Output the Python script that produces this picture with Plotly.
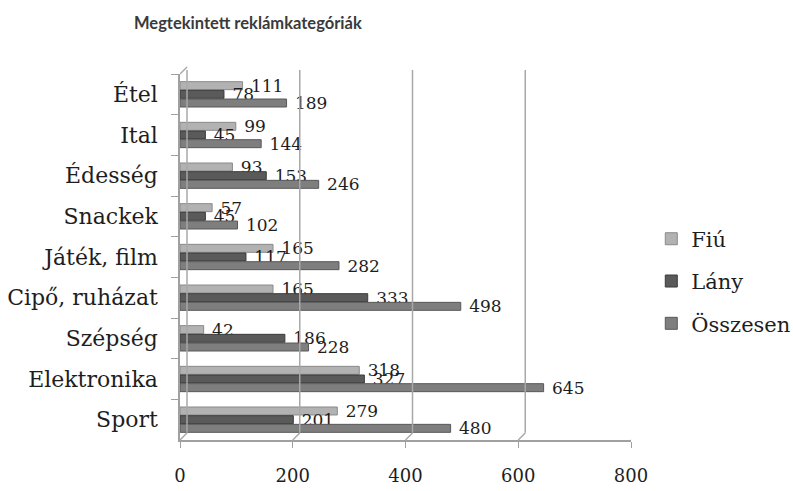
import plotly.graph_objects as go

# Viewed ad categories, counts by gender
categories = ["Étel", "Ital", "Édesség", "Snackek", "Játék, film",
              "Cipő, ruházat", "Szépség", "Elektronika", "Sport"]
fiu = [111, 99, 93, 57, 165, 165, 42, 318, 279]
lany = [78, 45, 153, 45, 117, 333, 186, 327, 201]
osszesen = [189, 144, 246, 102, 282, 498, 228, 645, 480]

series_names = ["Fiú", "Lány", "Összesen"]
series_values = [fiu, lany, osszesen]
series_colors = ["#b2b2b2", "#5a5a5a", "#7e7e7e"]
series_edges = ["#8a8a8a", "#3a3a3a", "#585858"]

x_ticks = [0, 200, 400, 600, 800]

serif = "DejaVu Serif"

fig = go.Figure()
for name, vals, col, edge in zip(series_names, series_values, series_colors, series_edges):
    fig.add_trace(go.Bar(
        y=categories, x=vals, name=name, orientation="h",
        legendgroup=name,
        marker=dict(color=col, line=dict(color=edge, width=1)),
        text=[" " + str(v) for v in vals], textposition="outside",
        constraintext="none",
        textfont=dict(family=serif, size=17, color="#1e1e1e"),
        cliponaxis=False,
    ))

# back wall grid lines, shifted for the 3D depth effect
shapes = []
depth = 7
wall = dict(color="#a8a8a8", width=1.5)
for v in x_ticks[1:]:
    shapes.append(dict(type="line", xref="x", xsizemode="pixel", xanchor=v,
                       x0=depth, x1=depth, yref="paper", y0=0.02, y1=1.011,
                       line=wall))
    shapes.append(dict(type="line", xref="x", xsizemode="pixel", xanchor=v,
                       x0=0, x1=depth, yref="paper", ysizemode="pixel", yanchor=0,
                       y0=0, y1=depth, line=wall))
# side wall
shapes.append(dict(type="line", xref="x", xsizemode="pixel", xanchor=0,
                   x0=depth, x1=depth, yref="paper", y0=0.02, y1=1.011,
                   line=wall))
for anchor in (0, 1):
    shapes.append(dict(type="line", xref="x", xsizemode="pixel", xanchor=0,
                       x0=0, x1=depth, yref="paper", ysizemode="pixel", yanchor=anchor,
                       y0=0, y1=depth, line=wall))

fig.update_layout(
    width=793, height=491,
    margin=dict(l=180, r=162, t=74, b=51, autoexpand=False),
    paper_bgcolor="white", plot_bgcolor="white",
    barmode="group", bargap=0.36, bargroupgap=0.08,
    shapes=shapes,
    showlegend=True,
    legend=dict(x=1.045, y=0.605, xanchor="left", yanchor="top",
                traceorder="grouped", tracegroupgap=12,
                font=dict(family=serif, size=21, color="#1e1e1e"),
                itemwidth=30, bgcolor="rgba(0,0,0,0)"),
    xaxis=dict(range=[0, 800], tickvals=x_ticks, showgrid=False, zeroline=False,
               showline=True, linecolor="#a0a0a0", linewidth=1.5,
               ticks="outside", ticklen=6, tickcolor="#a0a0a0",
               tickfont=dict(family=serif, size=18, color="#1e1e1e"),
               ticklabelstandoff=13),
    yaxis=dict(autorange="reversed", showgrid=False, zeroline=False,
               showline=True, linecolor="#a0a0a0", linewidth=1.5,
               ticks="outside", ticklen=7, tickcolor="#a0a0a0",
               tickson="boundaries",
               tickfont=dict(family=serif, size=22, color="#1e1e1e"),
               ticklabelstandoff=16),
    annotations=[dict(text="<b>Megtekintett reklámkategóriák</b>",
                      xref="paper", yref="paper", x=-0.106, y=1.14,
                      xanchor="left", yanchor="middle", showarrow=False,
                      font=dict(family="Lato", size=16.5, color="#3a3a3a"))],
)

fig.write_html("out.html")
